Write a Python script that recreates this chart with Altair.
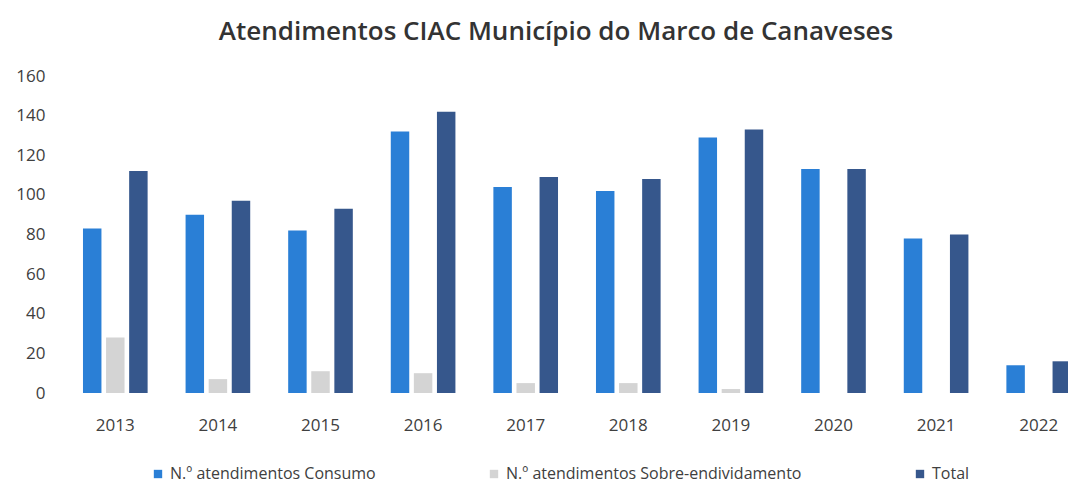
import altair as alt
import pandas as pd

years = ["2013", "2014", "2015", "2016", "2017", "2018", "2019", "2020", "2021", "2022"]
consumo = [83, 90, 82, 132, 104, 102, 129, 113, 78, 14]
sobre = [28, 7, 11, 10, 5, 5, 2, 0, 0, 0]
total = [112, 97, 93, 142, 109, 108, 133, 113, 80, 16]

series = ["N.º atendimentos Consumo", "N.º atendimentos Sobre-endividamento", "Total"]
colors = ["#2a7fd6", "#d4d4d4", "#36578c"]

rows = []
for i, y in enumerate(years):
    rows.append({"Ano": y, "Série": series[0], "Valor": consumo[i]})
    rows.append({"Ano": y, "Série": series[1], "Valor": sobre[i]})
    rows.append({"Ano": y, "Série": series[2], "Valor": total[i]})
df = pd.DataFrame(rows)

FONT = "Open Sans"

chart = alt.Chart(df).mark_bar().encode(
    x=alt.X("Ano:N", sort=years, title=None,
            scale=alt.Scale(range=[0, 1026], paddingInner=0.37, paddingOuter=0.185),
            axis=alt.Axis(labelAngle=0, labelFontSize=17, labelColor="#404040", labelFont=FONT,
                          domain=False, ticks=False, labelPadding=24)),
    xOffset=alt.XOffset("Série:N", sort=series, scale=alt.Scale(paddingInner=0.2)),
    y=alt.Y("Valor:Q", title=None,
            scale=alt.Scale(domain=[0, 160]),
            axis=alt.Axis(values=[0, 20, 40, 60, 80, 100, 120, 140, 160], grid=False, domain=False,
                          ticks=False, labelFontSize=17, labelColor="#404040", labelFont=FONT,
                          labelPadding=19)),
    color=alt.Color("Série:N", sort=series,
                    scale=alt.Scale(domain=series, range=colors),
                    legend=alt.Legend(title=None, orient="none", direction="horizontal",
                                      legendX=86, legendY=390, symbolType="square", symbolSize=70,
                                      symbolStrokeWidth=0, labelFontSize=16, labelFont=FONT,
                                      labelColor="#404040", columnPadding=110, labelOffset=4,
                                      labelLimit=600)),
).properties(
    width=1004,
    height=317,
    title=alt.TitleParams("Atendimentos CIAC Município do Marco de Canaveses", fontSize=26,
                          font=FONT, fontWeight=600, color="#333333", offset=22, dx=-10),
    autosize=alt.AutoSizeParams(type="none"),
    padding={"left": 64, "top": 76, "right": 0, "bottom": 92},
).configure_view(stroke=None)

chart.save("out.html", embed_options={"renderer": "svg", "actions": False})
